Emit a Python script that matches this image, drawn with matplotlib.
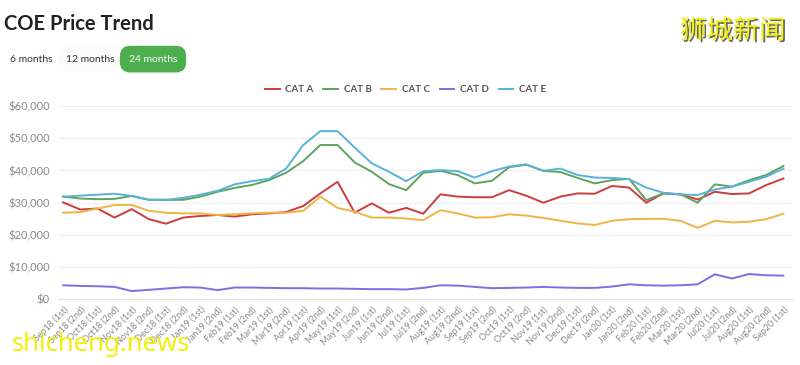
import matplotlib
matplotlib.use("Agg")
import matplotlib.pyplot as plt
import matplotlib.patheffects as pe
from matplotlib.ticker import FuncFormatter, MultipleLocator

# bidding rounds shown on the x axis
rounds = [
    "Sep18 (1st)", "Sep18 (2nd)", "Oct18 (1st)", "Oct18 (2nd)", "Nov18 (1st)", "Nov18 (2nd)",
    "Dec18 (1st)", "Dec18 (2nd)", "Jan19 (1st)", "Jan19 (2nd)", "Feb19 (1st)", "Feb19 (2nd)",
    "Mar19 (1st)", "Mar19 (2nd)", "Apr19 (1st)", "Apr19 (2nd)", "May19 (1st)", "May19 (2nd)",
    "Jun19 (1st)", "Jun19 (2nd)", "Jul19 (1st)", "Jul19 (2nd)", "Aug19 (1st)", "Aug19 (2nd)",
    "Sep19 (1st)", "Sep19 (2nd)", "Oct19 (1st)", "Oct19 (2nd)", "Nov19 (1st)", "Nov19 (2nd)",
    "Dec19 (1st)", "Dec19 (2nd)", "Jan20 (1st)", "Jan20 (2nd)", "Feb20 (1st)", "Feb20 (2nd)",
    "Mar20 (1st)", "Mar20 (2nd)", "Jul20 (1st)", "Jul20 (2nd)", "Aug20 (1st)", "Aug20 (2nd)",
    "Sep20 (1st)",
]

cat_a = [30100, 27900, 28200, 25400, 28000, 24900, 23500, 25400, 25900, 26200, 25700,
         26400, 26700, 27100, 29000, 32900, 36500, 26900, 29800, 26900, 28400, 26600,
         32600, 31900, 31700, 31700, 33900, 32200, 30000, 31900, 32900, 32800, 35200,
         34700, 30000, 32900, 32600, 31000, 33400, 32700, 32900, 35500, 37500]
cat_b = [31900, 31300, 31100, 31200, 32100, 30900, 30900, 30900, 31900, 33400, 34600,
         35500, 37000, 39300, 42900, 47900, 47900, 42500, 39600, 35800, 33900, 39300,
         39900, 38600, 36000, 36800, 41000, 41800, 39900, 39500, 37700, 36000, 37000,
         37400, 30800, 32900, 32600, 30000, 35700, 35000, 37000, 38600, 41400]
cat_c = [26900, 27100, 28200, 29300, 29300, 27500, 26900, 26700, 26700, 26200, 26400,
         26700, 26900, 26900, 27500, 31900, 28400, 27200, 25400, 25400, 25100, 24600,
         27700, 26700, 25400, 25500, 26400, 26000, 25300, 24400, 23600, 23100, 24400,
         24900, 25000, 25000, 24400, 22200, 24400, 23900, 24100, 24900, 26600]
cat_d = [4400, 4200, 4100, 3900, 2600, 3000, 3400, 3800, 3700, 2900, 3700,
         3700, 3600, 3500, 3500, 3400, 3400, 3300, 3200, 3200, 3100, 3600,
         4400, 4300, 3900, 3500, 3600, 3700, 3900, 3700, 3600, 3600, 4000,
         4700, 4400, 4300, 4400, 4700, 7800, 6500, 7900, 7500, 7400]
cat_e = [31900, 32200, 32500, 32800, 32100, 31000, 30900, 31500, 32500, 33700, 35700,
         36700, 37400, 40600, 47900, 52200, 52200, 47100, 42200, 39600, 36700, 39800,
         40100, 39800, 37800, 39800, 41200, 41900, 39900, 40600, 38600, 37800, 37700,
         37300, 34700, 33100, 32600, 32400, 34100, 35000, 36500, 38100, 40600]

series = [
    ("CAT A", cat_a, "#cc3d3f"),
    ("CAT B", cat_b, "#5fa35c"),
    ("CAT C", cat_c, "#eeb545"),
    ("CAT D", cat_d, "#7d6ee3"),
    ("CAT E", cat_e, "#5ab1d9"),
]

plt.rcParams["font.family"] = ["Lato", "DejaVu Sans"]

fig = plt.figure(figsize=(8, 3.65), dpi=100)
ax = fig.add_axes([0.0725, 0.1795, 0.9175, 0.5301])

x = list(range(len(rounds)))
for name, vals, col in series:
    ax.plot(x, vals, color=col, lw=1.4, label=name, solid_joinstyle="round")

ax.set_xlim(-0.3, len(rounds) - 1 + 0.5)
ax.set_ylim(0, 60000)
ax.yaxis.set_major_locator(MultipleLocator(10000))
ax.yaxis.set_major_formatter(FuncFormatter(lambda v, p: "\\$" + f"{v:,.0f}"))
ax.set_xticks(x)
ax.set_xticklabels(rounds, rotation=45, ha="right", va="top", rotation_mode="anchor")
ax.tick_params(axis="both", length=0, colors="#8a8a8a", labelsize=7)
ax.tick_params(axis="x", pad=4, labelsize=6.5)
ax.tick_params(axis="y", pad=6, labelsize=8)

ax.grid(axis="y", color="#f0f0f0", lw=0.9)
ax.set_axisbelow(True)
for s in ["top", "right", "left"]:
    ax.spines[s].set_visible(False)
ax.spines["bottom"].set_color("#e2e2e2")

leg = fig.legend(loc="center", bbox_to_anchor=(0.507, 0.755), ncol=5, frameon=False,
                 handlelength=1.5, columnspacing=1.0, handletextpad=0.6,
                 prop={"weight": "bold", "size": 7})
for t in leg.get_texts():
    t.set_color("#555555")

# header
fig.text(0.005, 0.935, "COE Price Trend", fontsize=14.5, fontweight="bold",
         color="#222222", va="center", ha="left")
fig.text(0.013, 0.838, "6 months", fontsize=7.5, color="#333333", va="center")
fig.text(0.083, 0.838, "12 months", fontsize=7.5, color="#333333", va="center",
         bbox=dict(boxstyle="round,pad=0.75,rounding_size=0.9", fc="#fbfbfb", ec="none"))
fig.text(0.161, 0.838, "24 months", fontsize=7.5, color="white", va="center",
         bbox=dict(boxstyle="round,pad=0.85,rounding_size=1.0", fc="#4cae4c", ec="none"))

# watermarks
shadow = [pe.withSimplePatchShadow(offset=(1.2, -1.2), shadow_rgbFace="#555555", alpha=0.9)]
fig.text(0.85, 0.915, "狮城新闻", fontsize=19, color="#f2ef0a", va="center", ha="left",
         family=["Noto Sans CJK SC", "DejaVu Sans"], path_effects=shadow)
fig.text(0.015, 0.055, "shicheng.news", fontsize=18.5, color="#f2ef0a", va="center", ha="left",
         family=["Noto Sans", "DejaVu Sans"])

fig.savefig("out.png", dpi=100)
